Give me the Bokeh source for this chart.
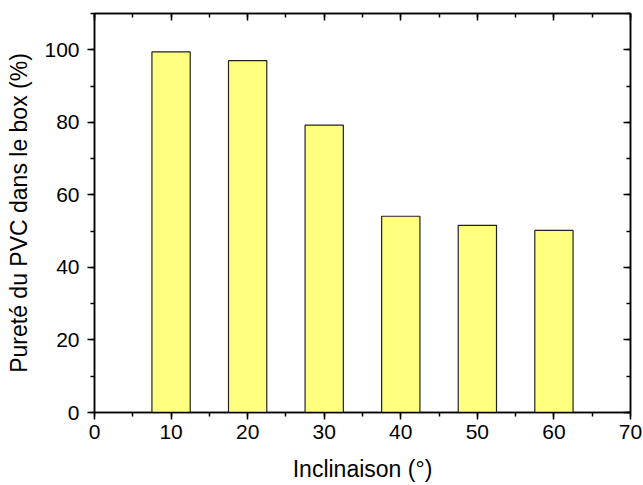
from bokeh.plotting import figure
from bokeh.models import LinearAxis, SingleIntervalTicker, Range1d, CustomJSTickFormatter
from bokeh.embed import file_html
from bokeh.resources import INLINE

# Data
inclinaison = [10, 20, 30, 40, 50, 60]
purete = [99.4, 97.0, 79.2, 54.1, 51.6, 50.2]
x_label = "Inclinaison (°)"
y_label = "Pureté du PVC dans le box (%)"

FONT = "Liberation Sans"

p = figure(width=643, height=485, output_backend="svg", toolbar_location=None,
           x_range=Range1d(0, 70), y_range=Range1d(0, 110),
           x_axis_type=None, y_axis_type=None,
           min_border_left=94, min_border_right=13, min_border_top=13, min_border_bottom=73)
p.grid.visible = False
p.outline_line_color = "black"
p.outline_line_width = 1.5
p.background_fill_color = "white"
p.border_fill_color = "white"

p.vbar(x=inclinaison, top=purete, bottom=0, width=5,
       fill_color="#FFFF80", line_color="#222222", line_width=1.2)

def style(ax, labels=True, inward=False):
    ax.axis_line_color = "black"
    ax.axis_line_width = 1.5
    ax.major_tick_line_color = "black"
    ax.minor_tick_line_color = "black"
    ax.major_tick_line_width = 1.5
    ax.minor_tick_line_width = 1.5
    if inward:
        ax.major_tick_in = 7
        ax.major_tick_out = 0
        ax.minor_tick_in = 4
        ax.minor_tick_out = 0
    else:
        ax.major_tick_in = 0
        ax.major_tick_out = 7
        ax.minor_tick_in = 0
        ax.minor_tick_out = 4
    ax.major_label_text_font = FONT
    ax.major_label_text_font_size = "21px"
    ax.major_label_text_color = "black"
    ax.axis_label_text_font = FONT
    ax.axis_label_text_font_size = "23px"
    ax.axis_label_text_font_style = "normal"
    ax.axis_label_text_color = "black"
    if not labels:
        ax.formatter = CustomJSTickFormatter(code="return ''")
        ax.major_label_standoff = 0

xb = LinearAxis(ticker=SingleIntervalTicker(interval=10, num_minor_ticks=2), axis_label=x_label)
style(xb)
xb.major_label_standoff = 5
xb.axis_label_standoff = 14
p.add_layout(xb, "below")

yl = LinearAxis(ticker=SingleIntervalTicker(interval=20, num_minor_ticks=2), axis_label=y_label)
style(yl)
yl.major_label_standoff = 8
yl.axis_label_standoff = 9
p.add_layout(yl, "left")

xt = LinearAxis(ticker=SingleIntervalTicker(interval=10, num_minor_ticks=2))
style(xt, labels=False, inward=True)
p.add_layout(xt, "above")

yr = LinearAxis(ticker=SingleIntervalTicker(interval=20, num_minor_ticks=2))
style(yr, labels=False, inward=True)
p.add_layout(yr, "right")

open("out.html", "w").write(file_html(p, INLINE))
